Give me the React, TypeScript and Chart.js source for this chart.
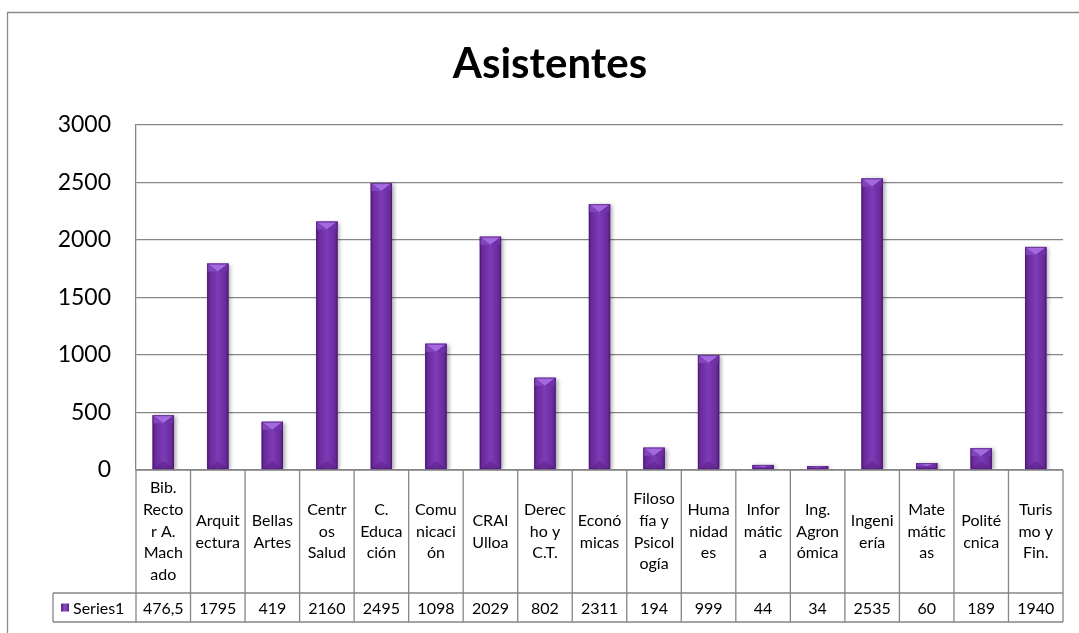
import React, { useEffect, useRef } from "react";
import { Chart, registerables } from "chart.js";

Chart.register(...registerables);

const TITLE = "Asistentes";
const SERIES_NAME = "Series1";
const categories: string[][] = [
  ["Bib.", "Recto", "r A.", "Mach", "ado"],
  ["Arquit", "ectura"],
  ["Bellas", "Artes"],
  ["Centr", "os", "Salud"],
  ["C.", "Educa", "ción"],
  ["Comu", "nicaci", "ón"],
  ["CRAI", "Ulloa"],
  ["Derec", "ho y", "C.T."],
  ["Econó", "micas"],
  ["Filoso", "fía y", "Psicol", "ogía"],
  ["Huma", "nidad", "es"],
  ["Infor", "mátic", "a"],
  ["Ing.", "Agron", "ómica"],
  ["Ingeni", "ería"],
  ["Mate", "mátic", "as"],
  ["Polité", "cnica"],
  ["Turis", "mo y", "Fin."],
];
const values: number[] = [476.5, 1795, 419, 2160, 2495, 1098, 2029, 802, 2311, 194, 999, 44, 34, 2535, 60, 189, 1940];
const Y_MIN = 0;
const Y_MAX = 3000;
const Y_STEP = 500;

const GRID = "#868686";
const PURPLE = "#6a2c9e";
const FONT = "Lato, 'Open Sans', sans-serif";

const fmt = (v: number) => String(v).replace(".", ",");

const barStylePlugin = {
  id: "barStyle",
  beforeDatasetsDraw(chart: any) {
    const ctx = chart.ctx;
    ctx.save();
    ctx.shadowColor = "rgba(0,0,0,0.35)";
    ctx.shadowBlur = 4;
    ctx.shadowOffsetX = 2;
    ctx.shadowOffsetY = 1;
  },
  afterDatasetsDraw(chart: any) {
    const ctx = chart.ctx;
    ctx.restore();
    const meta = chart.getDatasetMeta(0);
    ctx.save();
    meta.data.forEach((bar: any) => {
      const { x, y, width, base } = bar.getProps(["x", "y", "width", "base"], true);
      const l = x - width / 2;
      const r = x + width / 2;
      const h = base - y;
      if (h <= 0) return;
      const g = ctx.createLinearGradient(l, 0, r, 0);
      g.addColorStop(0, "#56217f");
      g.addColorStop(0.15, "#6a2c9e");
      g.addColorStop(0.5, "#7d3bb6");
      g.addColorStop(0.85, "#6a2c9e");
      g.addColorStop(1, "#56217f");
      ctx.fillStyle = g;
      ctx.fillRect(l, y, width, h);
      const cap = Math.min(8, h / 2);
      ctx.fillStyle = "#a36ae0";
      ctx.beginPath();
      ctx.moveTo(l, y);
      ctx.lineTo(r, y);
      ctx.lineTo(x, y + cap);
      ctx.closePath();
      ctx.fill();
      ctx.fillStyle = "#8044bb";
      ctx.beginPath();
      ctx.moveTo(l, y);
      ctx.lineTo(x, y + cap);
      ctx.lineTo(l, y + cap);
      ctx.closePath();
      ctx.fill();
      ctx.fillStyle = "#7030a8";
      ctx.beginPath();
      ctx.moveTo(r, y);
      ctx.lineTo(x, y + cap);
      ctx.lineTo(r, y + cap);
      ctx.closePath();
      ctx.fill();
      ctx.fillStyle = "rgba(90,30,130,0.5)";
      ctx.beginPath();
      ctx.moveTo(l, base);
      ctx.lineTo(r, base);
      ctx.lineTo(x, base - cap);
      ctx.closePath();
      ctx.fill();
      ctx.strokeStyle = "rgba(70,20,110,0.6)";
      ctx.lineWidth = 1;
      ctx.strokeRect(l + 0.5, y + 0.5, width - 1, h - 1);
    });
    ctx.restore();
  },
};

const tablePlugin = {
  id: "dataTable",
  afterDraw(chart: any) {
    const ctx = chart.ctx;
    const xs = chart.scales.x;
    const area = chart.chartArea;
    const step = xs.getPixelForValue(1) - xs.getPixelForValue(0);
    const top = area.bottom;
    const rowSplit = top + 123;
    const bottom = rowSplit + 29;
    const legendLeft = 53;
    const firstLeft = xs.getPixelForValue(0) - step / 2;
    const lastRight = xs.getPixelForValue(categories.length - 1) + step / 2;

    ctx.save();
    ctx.strokeStyle = "#8a8a8a";
    ctx.lineWidth = 1.3;
    ctx.beginPath();
    ctx.moveTo(7.5, chart.height);
    ctx.lineTo(7.5, 12.5);
    ctx.lineTo(chart.width, 12.5);
    ctx.stroke();

    ctx.fillStyle = "#000";
    ctx.font = `bold 42px ${FONT}`;
    ctx.textAlign = "center";
    ctx.textBaseline = "alphabetic";
    ctx.fillText(TITLE, 550, 78);

    ctx.strokeStyle = GRID;
    ctx.lineWidth = 1.3;
    ctx.beginPath();
    ctx.moveTo(firstLeft, top);
    ctx.lineTo(lastRight, top);
    ctx.moveTo(legendLeft, rowSplit);
    ctx.lineTo(lastRight, rowSplit);
    ctx.moveTo(legendLeft, bottom);
    ctx.lineTo(lastRight, bottom);
    ctx.moveTo(legendLeft, rowSplit);
    ctx.lineTo(legendLeft, bottom);
    for (let i = 0; i <= categories.length; i++) {
      const bx = firstLeft + i * step;
      ctx.moveTo(bx, top);
      ctx.lineTo(bx, bottom);
    }
    ctx.stroke();

    ctx.fillStyle = "#000";
    ctx.font = `16px ${FONT}`;
    ctx.textAlign = "center";
    ctx.textBaseline = "middle";
    const lh = 21.7;
    const midHead = (top + rowSplit) / 2;
    categories.forEach((lines, i) => {
      const cx = xs.getPixelForValue(i);
      const start = midHead - ((lines.length - 1) * lh) / 2;
      lines.forEach((ln, k) => ctx.fillText(ln, cx, start + k * lh));
    });
    const midRow = (rowSplit + bottom) / 2 + 1;
    values.forEach((v, i) => {
      ctx.fillText(fmt(v), xs.getPixelForValue(i), midRow);
    });
    const g = ctx.createLinearGradient(61, 0, 69, 0);
    g.addColorStop(0, "#5a2385");
    g.addColorStop(0.5, "#8a4cc6");
    g.addColorStop(1, "#5a2385");
    ctx.fillStyle = g;
    ctx.fillRect(61, midRow - 5, 8, 8);
    ctx.fillStyle = "#000";
    ctx.textAlign = "left";
    ctx.fillText(SERIES_NAME, 73, midRow);
    ctx.restore();
  },
};

export default function App() {
  const ref = useRef<HTMLCanvasElement>(null);
  useEffect(() => {
    if (!ref.current) return;
    const chart = new Chart(ref.current, {
      type: "bar",
      data: {
        labels: categories.map((c) => c.join(" ")),
        datasets: [
          {
            label: SERIES_NAME,
            data: values,
            backgroundColor: PURPLE,
            borderWidth: 0,
            barPercentage: 0.78,
            categoryPercentage: 0.5,
          },
        ],
      },
      options: {
        responsive: false,
        animation: false,
        layout: { padding: { top: 125, right: 16, left: 0, bottom: 0 } },
        plugins: {
          legend: { display: false },
          title: { display: false },
          tooltip: { enabled: false },
        },
        scales: {
          x: {
            ticks: { display: false },
            grid: { display: false },
            border: { display: false },
            afterFit: (s: any) => {
              s.height = 163;
            },
          },
          y: {
            min: Y_MIN,
            max: Y_MAX,
            ticks: {
              stepSize: Y_STEP,
              color: "#000",
              padding: 25,
              font: { family: FONT, size: 23 },
              callback: (v: any) => String(v),
            },
            grid: { color: GRID, lineWidth: 1.3, drawTicks: false },
            border: { display: true, color: GRID, width: 1.3 },
            afterFit: (s: any) => {
              s.width = 136;
            },
          },
        },
      },
      plugins: [barStylePlugin, tablePlugin],
    });
    return () => chart.destroy();
  }, []);
  return (
    <div style={{ position: "absolute", left: 0, top: 0, width: 1079, height: 633, background: "#fff" }}>
      <canvas ref={ref} width={1079} height={633} style={{ display: "block" }} />
    </div>
  );
}
